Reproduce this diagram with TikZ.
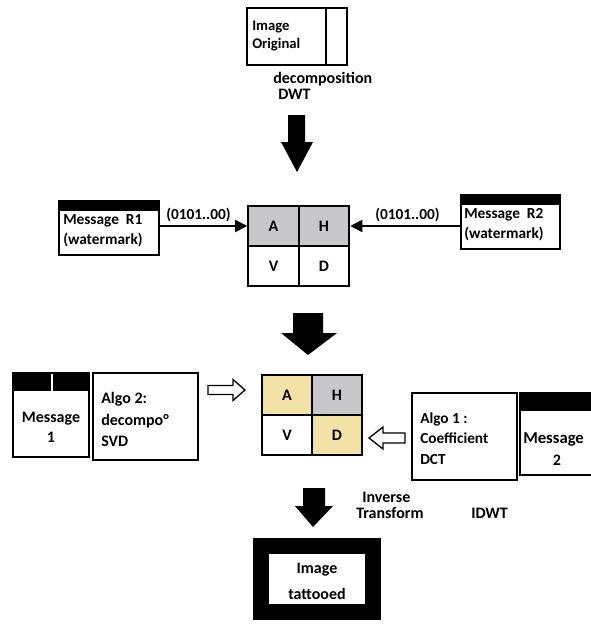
\documentclass[tikz,border=0pt]{standalone}
\usepackage{fontspec}
\setmainfont{Carlito}
\usetikzlibrary{arrows.meta,calc}
\definecolor{cellgray}{RGB}{200,200,202}
\definecolor{cellyel}{RGB}{242,226,166}
\begin{document}
\begin{tikzpicture}[x=0.75pt,y=-0.75pt,
  font=\fontsize{12}{15}\selectfont\bfseries,
  lbl/.style={inner sep=0pt, anchor=west, align=left},
  msgbox/.style={draw, line width=1.3pt, inner sep=0pt},
  algobox/.style={draw, line width=2pt, inner sep=0pt, minimum width=78.75pt, minimum height=65.25pt},
  cellA/.style={draw, line width=1.5pt, inner sep=0pt, minimum width=37.9pt, minimum height=30pt},
  bigarrow/.style={fill=black},
  hollow/.style={draw, line width=1pt, fill=white},
  wire/.style={line width=1.3pt, -{Triangle[length=9pt,width=9pt]}}]
\useasboundingbox (0,0) rectangle (591,636);
\fill[white] (0,0) rectangle (591,636);

% top box
\node[msgbox, line width=1.5pt, minimum width=75pt, minimum height=42.75pt] (orig) at (297,36.5) {};
\draw[line width=1.2pt] (326,8) -- (326,65);
\node[lbl, font=\fontsize{11}{13.5}\selectfont\bfseries] (origtxt) at (252,36) {Image\\Original};
\node[lbl] (dec) at (273,79) {decomposition};
\node[lbl] (dwt) at (278,94) {DWT};

% big arrow 1
\fill[bigarrow] (288,115) -- (305,115) -- (305,142) -- (313,142) -- (297,172) -- (281,142) -- (288,142) -- cycle;

% grid 1
\node[cellA, fill=cellgray] (ga) at (273.5,226) {A};
\node[cellA, fill=cellgray] (gh) at (324,226) {H};
\node[cellA] (gv) at (273.5,266) {V};
\node[cellA] (gd) at (324,266) {D};

% message R1
\node[msgbox, minimum width=75pt, minimum height=40.5pt] (m1) at (109,228) {};
\fill[black] (m1.north west) rectangle ($(m1.north east)+(0,11)$);
\node[lbl, font=\fontsize{11.5}{15}\selectfont\bfseries] (m1txt) at (63,231) {Message~~R1\\(watermark)};
\draw[wire] (m1.east |- ga.west) -- (ga.west);
\node[lbl, font=\fontsize{11.5}{15}\selectfont\bfseries] (b1) at (166,215) {(0101..00)};

% message R2
\node[msgbox, minimum width=74.25pt, minimum height=40.5pt] (m2) at (510.5,222) {};
\fill[black] (m2.north west) rectangle ($(m2.north east)+(0,11)$);
\node[lbl, font=\fontsize{11.5}{15}\selectfont\bfseries] (m2txt) at (464,225) {Message~~R2\\(watermark)};
\draw[wire] (m2.west |- gh.east) -- (gh.east);
\node[lbl, font=\fontsize{11.5}{15}\selectfont\bfseries] (b2) at (375,215) {(0101..00)};

% big arrow 2
\fill[bigarrow] (293,313) -- (323,313) -- (323,333) -- (337,333) -- (308,355) -- (281,333) -- (293,333) -- cycle;

% grid 2
\node[cellA, minimum width=37.5pt, fill=cellyel] (ka) at (287,395) {A};
\node[cellA, minimum width=37.5pt, fill=cellgray] (kh) at (337,395) {H};
\node[cellA, minimum width=37.5pt] (kv) at (287,435) {V};
\node[cellA, minimum width=37.5pt, fill=cellyel] (kd) at (337,435) {D};

% message 1
\node[msgbox, line width=1.5pt, minimum width=57pt, minimum height=63pt] (msg1) at (51,415) {};
\fill[black] (msg1.north west) rectangle ($(msg1.north east)+(0,19)$);
\draw[white, line width=0.8pt] (52,374) -- (52,391);
\node[inner sep=0pt, align=center] (msg1txt) at (51,427) {Message\\1};

% algo 2
\node[algobox] (algo2) at (145.5,416.5) {};
\node[lbl, font=\fontsize{12}{16}\selectfont\bfseries] (algo2txt) at (101,419.5) {Algo 2:\\decompo°\\SVD};

% hollow arrow right
\draw[hollow] (208,385.5) -- (233,385.5) -- (233,379.5) -- (245,390) -- (233,400.5) -- (233,394.5) -- (208,394.5) -- cycle;

% algo 1
\node[algobox] (algo1) at (464.5,436.5) {};
\node[lbl, font=\fontsize{11.5}{15.5}\selectfont\bfseries] (algo1txt) at (420,438.5) {Algo 1 :\\Coefficient\\DCT};

% message 2
\node[msgbox, line width=1.5pt, minimum width=64pt, minimum height=61.5pt] (msg2) at (562.5,434) {};
\fill[black] (msg2.north west) rectangle ($(msg2.north east)+(0,19)$);
\node[lbl, font=\fontsize{12.5}{15}\selectfont\bfseries] (msg2a) at (523,440) {Message};
\node[inner sep=0pt] (msg2b) at (557,460) {2};

% hollow arrow left
\draw[hollow] (405,433) -- (383,433) -- (383,427) -- (369,438) -- (383,449) -- (383,443) -- (405,443) -- cycle;

% big arrow 3
\fill[bigarrow] (303,488) -- (325,488) -- (325,506) -- (333,506) -- (313,527) -- (295,506) -- (303,506) -- cycle;
\node[lbl] (inv) at (362,497) {Inverse};
\node[lbl] (trans) at (356,513) {Transform};
\node[lbl] (idwt) at (471,513) {IDWT};

% final box
\node[draw, line width=12pt, minimum width=84pt, minimum height=49.5pt, inner sep=0pt] (final) at (317,579) {};
\node[inner sep=0pt, align=center, font=\fontsize{12}{19.5}\selectfont\bfseries] (finaltxt) at (317,581) {Image\\tattooed};
\end{tikzpicture}
\end{document}
